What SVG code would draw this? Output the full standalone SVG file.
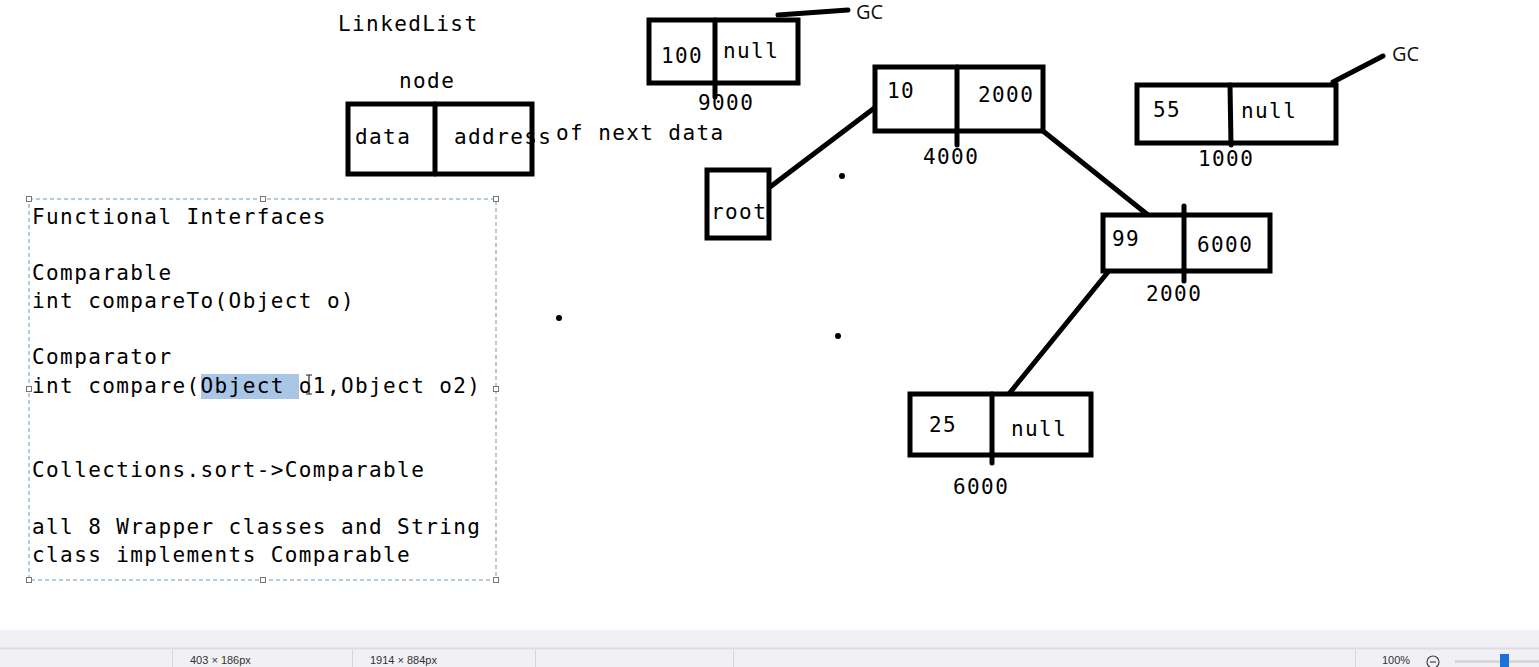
<svg xmlns="http://www.w3.org/2000/svg" width="1539" height="667" viewBox="0 0 1539 667">
<style>
.t{font-family:"DejaVu Sans Mono","Liberation Mono",monospace;font-size:21px;letter-spacing:1.4px;fill:#000}
.gc{font-family:"Open Sans","Liberation Sans",sans-serif;font-size:20px;fill:#111}
.box{fill:#fff;stroke:#000;stroke-width:5}
.ln{stroke:#000;stroke-width:5;stroke-linecap:round;fill:none}
.sel{fill:none;stroke:#6a98b8;stroke-width:1;stroke-dasharray:4 3}
.h{fill:#fff;stroke:#777;stroke-width:1}
.sb{font-family:"Liberation Sans",sans-serif;font-size:11px;fill:#333}
</style>
<rect width="1539" height="667" fill="#fff"/>

<g id="title">
<text class="t" x="338" y="31">LinkedList</text>
</g>

<g id="node-legend">
<text class="t" x="399" y="88">node</text>
<rect class="box" x="348" y="104" width="184" height="70"/>
<line class="ln" x1="435" y1="104" x2="435" y2="174" stroke-linecap="butt"/>
<text class="t" x="355" y="144">data</text>
<text class="t" x="454" y="144">address</text>
<text class="t" x="556" y="140">of next data</text>
</g>

<g id="notes">
<rect x="201" y="374" width="98" height="25" fill="#a9c6e6"/>
<text class="t" x="32" y="224">Functional Interfaces</text>
<text class="t" x="32" y="280">Comparable</text>
<text class="t" x="32" y="308">int compareTo(Object o)</text>
<text class="t" x="32" y="364">Comparator</text>
<text class="t" x="32" y="393">int compare(Object o1,Object o2)</text>
<text class="t" x="32" y="477">Collections.sort-&gt;Comparable</text>
<text class="t" x="32" y="534">all 8 Wrapper classes and String</text>
<text class="t" x="32" y="562">class implements Comparable</text>
<path d="M306 375 h6 M309 375 v19 M306 394 h6" stroke="#222" stroke-width="1.2" fill="none"/>
<rect class="sel" x="29" y="199" width="467" height="381"/>
<rect class="h" x="26.5" y="196.5" width="5" height="5"/>
<rect class="h" x="260.5" y="196.5" width="5" height="5"/>
<rect class="h" x="493.5" y="196.5" width="5" height="5"/>
<rect class="h" x="26.5" y="386.5" width="5" height="5"/>
<rect class="h" x="493.5" y="386.5" width="5" height="5"/>
<rect class="h" x="26.5" y="577.5" width="5" height="5"/>
<rect class="h" x="260.5" y="577.5" width="5" height="5"/>
<rect class="h" x="493.5" y="577.5" width="5" height="5"/>
</g>

<g id="connectors">
<line class="ln" x1="778" y1="15" x2="848" y2="10"/>
<line class="ln" x1="770" y1="187" x2="877" y2="106"/>
<line class="ln" x1="1043" y1="131" x2="1148" y2="215"/>
<line class="ln" x1="1333" y1="82" x2="1383" y2="56"/>
<line class="ln" x1="1108" y1="272" x2="1008" y2="395"/>
</g>

<g id="node-100">
<rect class="box" x="649" y="20" width="149" height="63"/>
<line class="ln" x1="715" y1="20" x2="715" y2="97" stroke-linecap="butt"/>
<text class="t" x="661" y="63">100</text>
<text class="t" x="723" y="58">null</text>
<text class="t" x="698" y="110">9000</text>
<text class="gc" x="856" y="19">GC</text>
</g>

<g id="node-10">
<rect class="box" x="875" y="67" width="168" height="64"/>
<line class="ln" x1="957" y1="67" x2="957" y2="145" stroke-linecap="butt"/>
<text class="t" x="887" y="98">10</text>
<text class="t" x="978" y="102">2000</text>
<text class="t" x="923" y="164">4000</text>
</g>

<g id="root">
<rect class="box" x="707" y="170" width="62" height="68"/>
<text class="t" x="711" y="219">root</text>
</g>

<g id="node-55">
<rect class="box" x="1137" y="85" width="199" height="58"/>
<line class="ln" x1="1230" y1="85" x2="1231" y2="145" stroke-linecap="butt"/>
<text class="t" x="1153" y="117">55</text>
<text class="t" x="1241" y="118">null</text>
<text class="t" x="1198" y="166">1000</text>
<text class="gc" x="1392" y="61">GC</text>
</g>

<g id="node-99">
<rect class="box" x="1103" y="215" width="167" height="56"/>
<line class="ln" x1="1184" y1="206" x2="1184" y2="281" stroke-linecap="butt"/>
<text class="t" x="1112" y="246">99</text>
<text class="t" x="1197" y="252">6000</text>
<text class="t" x="1146" y="301">2000</text>
</g>

<g id="node-25">
<rect class="box" x="910" y="394" width="181" height="61"/>
<line class="ln" x1="992" y1="394" x2="992" y2="463" stroke-linecap="butt"/>
<text class="t" x="929" y="432">25</text>
<text class="t" x="1011" y="436">null</text>
<text class="t" x="953" y="494">6000</text>
</g>

<g id="dots" fill="#000">
<circle cx="842" cy="176" r="3"/>
<circle cx="559" cy="318" r="3"/>
<circle cx="838" cy="336" r="3"/>
</g>

<g id="statusbar">
<rect x="0" y="630" width="1539" height="37" fill="#f1f0f4"/>
<line x1="0" y1="648.5" x2="1539" y2="648.5" stroke="#dddce2" stroke-width="2"/>
<g stroke="#d6d5da" stroke-width="1">
<line x1="172.5" y1="650" x2="172.5" y2="667"/>
<line x1="352.5" y1="650" x2="352.5" y2="667"/>
<line x1="535.5" y1="650" x2="535.5" y2="667"/>
<line x1="733.5" y1="650" x2="733.5" y2="667"/>
<line x1="1355.5" y1="650" x2="1355.5" y2="667"/>
</g>
<text class="sb" x="190" y="664">403 × 186px</text>
<text class="sb" x="370" y="664">1914 × 884px</text>
<text class="sb" x="1382" y="664">100%</text>
<circle cx="1433" cy="662" r="6" fill="none" stroke="#444" stroke-width="1.2"/>
<line x1="1430" y1="662" x2="1436" y2="662" stroke="#444" stroke-width="1.2"/>
<rect x="1455" y="660" width="84" height="3" fill="#d8d8d8"/>
<rect x="1500" y="654" width="9" height="13" fill="#1a73d9"/>
</g>
</svg>
